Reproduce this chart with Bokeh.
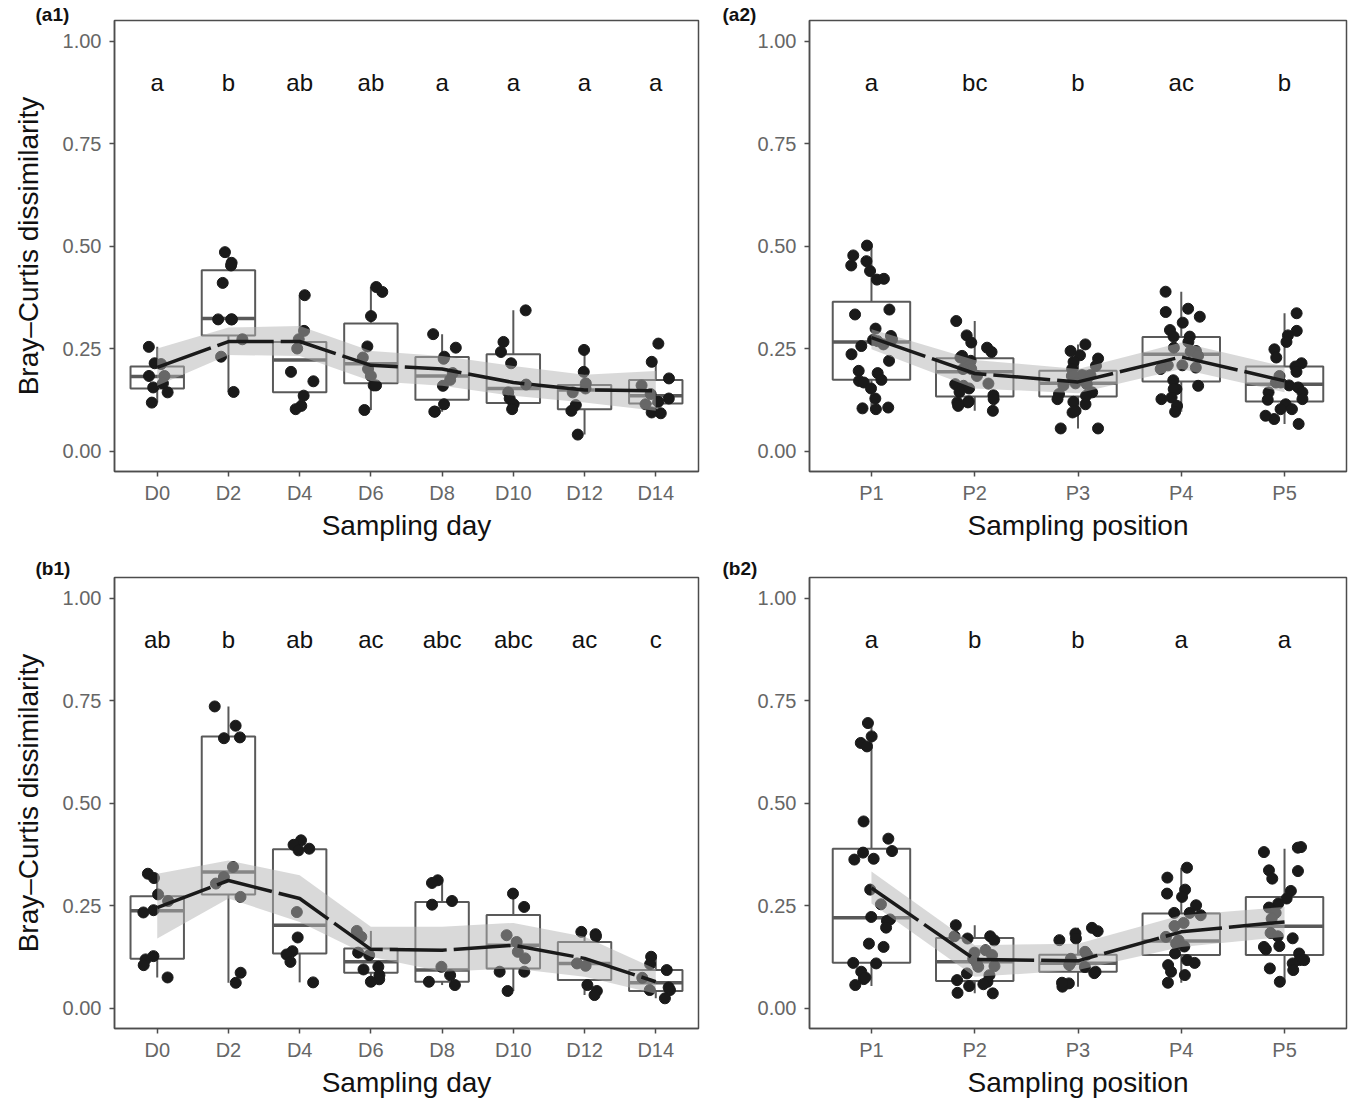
import numpy as np
from bokeh.plotting import figure
from bokeh.models import Range1d, FixedTicker, PrintfTickFormatter, ColumnDataSource
from bokeh.layouts import gridplot
from bokeh.transform import jitter, dodge
from bokeh.core.properties import value
from bokeh.embed import file_html
from bokeh.resources import INLINE

# ---------------- data ----------------
days = ["D0", "D2", "D4", "D6", "D8", "D10", "D12", "D14"]
positions = ["P1", "P2", "P3", "P4", "P5"]

# (a1) sampling day
a1_points = [
    [0.254, 0.214, 0.212, 0.183, 0.183, 0.165, 0.155, 0.143, 0.118],
    [0.485, 0.459, 0.4525, 0.41, 0.321, 0.321, 0.321, 0.2725, 0.23, 0.144],
    [0.38, 0.293, 0.2725, 0.25, 0.193, 0.17, 0.135, 0.11, 0.102],
    [0.40, 0.388, 0.329, 0.255, 0.228, 0.20, 0.183, 0.16, 0.16, 0.10],
    [0.285, 0.252, 0.23, 0.225, 0.19, 0.1735, 0.159, 0.114, 0.096, 0.096],
    [0.343, 0.266, 0.2415, 0.214, 0.162, 0.143, 0.128, 0.114, 0.102],
    [0.2465, 0.193, 0.1525, 0.165, 0.143, 0.112, 0.098, 0.04],
    [0.262, 0.2175, 0.177, 0.16, 0.139, 0.128, 0.12, 0.114, 0.094, 0.092],
]
a1_q1 = [0.1525, 0.282, 0.143, 0.165, 0.125, 0.117, 0.102, 0.116]
a1_med = [0.182, 0.323, 0.222, 0.213, 0.183, 0.1525, 0.149, 0.1345]
a1_q3 = [0.206, 0.441, 0.266, 0.311, 0.2295, 0.236, 0.161, 0.173]
a1_lo = [0.118, 0.144, 0.102, 0.10, 0.096, 0.102, 0.04, 0.092]
a1_hi = [0.254, 0.485, 0.38, 0.40, 0.285, 0.343, 0.2465, 0.2175]
a1_fit = [0.204, 0.267, 0.267, 0.209, 0.2, 0.167, 0.149, 0.147]
a1_fit_lo = [0.159, 0.234, 0.232, 0.171, 0.159, 0.1345, 0.118, 0.098]
a1_fit_hi = [0.25, 0.301, 0.305, 0.244, 0.232, 0.2075, 0.186, 0.195]
a1_letters = ["a", "b", "ab", "ab", "a", "a", "a", "a"]

# (a2) sampling position
a2_points = [
    [0.501, 0.463, 0.477, 0.4525, 0.439, 0.42, 0.418, 0.345, 0.333, 0.2985, 0.2805, 0.2725, 0.271, 0.26,
     0.268, 0.256, 0.236, 0.22, 0.1955, 0.19, 0.1735, 0.171, 0.167, 0.1525, 0.128, 0.106, 0.104, 0.102],
    [0.317, 0.282, 0.2645, 0.252, 0.232, 0.2415, 0.228, 0.22, 0.217, 0.209, 0.2, 0.2, 0.183, 0.163, 0.1645,
     0.159, 0.1525, 0.144, 0.136, 0.1265, 0.1185, 0.121, 0.1185, 0.11, 0.098],
    [0.26, 0.244, 0.2335, 0.2255, 0.2175, 0.2075, 0.2, 0.185, 0.183, 0.183, 0.185, 0.165, 0.163, 0.16, 0.143,
     0.1345, 0.139, 0.1265, 0.12, 0.114, 0.094, 0.098, 0.055, 0.055],
    [0.3885, 0.347, 0.339, 0.3275, 0.313, 0.295, 0.279, 0.279, 0.266, 0.244, 0.243, 0.252, 0.232, 0.209,
     0.209, 0.2035, 0.2, 0.1725, 0.159, 0.151, 0.151, 0.1305, 0.1265, 0.11, 0.0955],
    [0.336, 0.293, 0.282, 0.266, 0.248, 0.228, 0.214, 0.206, 0.193, 0.183, 0.167, 0.16, 0.167, 0.155, 0.143,
     0.143, 0.1265, 0.125, 0.114, 0.102, 0.102, 0.078, 0.086, 0.066],
]
a2_q1 = [0.1735, 0.133, 0.133, 0.1695, 0.121]
a2_med = [0.266, 0.193, 0.165, 0.236, 0.163]
a2_q3 = [0.364, 0.226, 0.1955, 0.278, 0.206]
a2_lo = [0.102, 0.098, 0.055, 0.0955, 0.066]
a2_hi = [0.501, 0.317, 0.26, 0.3885, 0.336]
a2_fit = [0.2765, 0.189, 0.1685, 0.2295, 0.171]
a2_fit_lo = [0.248, 0.1525, 0.141, 0.2, 0.143]
a2_fit_hi = [0.297, 0.222, 0.2, 0.2645, 0.206]
a2_letters = ["a", "bc", "b", "ac", "b"]

# (b1) sampling day
b1_points = [
    [0.3275, 0.317, 0.277, 0.261, 0.2385, 0.233, 0.1185, 0.1265, 0.1045, 0.0745],
    [0.7355, 0.6885, 0.66, 0.658, 0.344, 0.3195, 0.3035, 0.271, 0.086, 0.0615],
    [0.409, 0.3885, 0.398, 0.3845, 0.234, 0.172, 0.1385, 0.1305, 0.1125, 0.0625],
    [0.188, 0.1735, 0.135, 0.129, 0.1005, 0.094, 0.08, 0.07, 0.064],
    [0.3115, 0.305, 0.261, 0.252, 0.1005, 0.08, 0.064, 0.056],
    [0.279, 0.2465, 0.1775, 0.161, 0.137, 0.121, 0.0885, 0.0885, 0.0415],
    [0.18, 0.1857, 0.175, 0.1087, 0.103, 0.056, 0.0415, 0.0316],
    [0.125, 0.107, 0.0925, 0.0737, 0.0438, 0.0438, 0.0236, 0.05],
]
b1_q1 = [0.12, 0.277, 0.133, 0.086, 0.064, 0.0965, 0.068, 0.0414]
b1_med = [0.237, 0.332, 0.202, 0.113, 0.0925, 0.153, 0.1087, 0.0616]
b1_q3 = [0.2725, 0.6625, 0.387, 0.145, 0.2587, 0.227, 0.161, 0.0925]
b1_lo = [0.0745, 0.0615, 0.0625, 0.064, 0.056, 0.0415, 0.0316, 0.0236]
b1_hi = [0.3275, 0.7355, 0.409, 0.188, 0.3115, 0.279, 0.1857, 0.125]
b1_fit = [0.245, 0.311, 0.267, 0.143, 0.141, 0.153, 0.121, 0.064]
b1_fit_lo = [0.1695, 0.267, 0.21, 0.125, 0.0885, 0.0965, 0.076, 0.035]
b1_fit_hi = [0.3275, 0.36, 0.3235, 0.198, 0.198, 0.2076, 0.1735, 0.095]
b1_letters = ["ab", "b", "ab", "ac", "abc", "abc", "ac", "c"]

# (b2) sampling position
b2_points = [
    [0.695, 0.6625, 0.6465, 0.638, 0.455, 0.413, 0.3828, 0.379, 0.362, 0.364, 0.2887, 0.253, 0.222, 0.216,
     0.2125, 0.196, 0.157, 0.149, 0.11, 0.1087, 0.0885, 0.0705, 0.0745, 0.056],
    [0.202, 0.175, 0.175, 0.1695, 0.165, 0.141, 0.135, 0.129, 0.1005, 0.102, 0.08, 0.0843, 0.064, 0.0535,
     0.068, 0.058, 0.0357, 0.037, 0.12, 0.11],
    [0.1817, 0.1873, 0.1955, 0.1655, 0.1695, 0.137, 0.13, 0.11, 0.0885, 0.105, 0.085, 0.06, 0.052, 0.0616,
     0.12, 0.1],
    [0.3423, 0.318, 0.2887, 0.279, 0.271, 0.2506, 0.232, 0.2263, 0.232, 0.2075, 0.2, 0.1735, 0.165, 0.157,
     0.15, 0.133, 0.1168, 0.1046, 0.11, 0.0884, 0.0803, 0.0616],
    [0.3803, 0.3925, 0.391, 0.334, 0.3358, 0.3155, 0.2855, 0.267, 0.2547, 0.245, 0.232, 0.218, 0.183, 0.175,
     0.17, 0.143, 0.151, 0.149, 0.133, 0.1168, 0.1168, 0.1087, 0.0965, 0.0925, 0.064],
]
b2_q1 = [0.1103, 0.0657, 0.0885, 0.129, 0.129]
b2_med = [0.22, 0.1127, 0.109, 0.1637, 0.1995]
b2_q3 = [0.3885, 0.171, 0.13, 0.2303, 0.271]
b2_lo = [0.0535, 0.0357, 0.052, 0.0616, 0.064]
b2_hi = [0.6925, 0.202, 0.1955, 0.3423, 0.3885]
b2_fit = [0.2928, 0.1185, 0.115, 0.1857, 0.21]
b2_fit_lo = [0.2547, 0.076, 0.0925, 0.149, 0.1735]
b2_fit_hi = [0.333, 0.153, 0.157, 0.226, 0.2465]
b2_letters = ["a", "b", "b", "a", "a"]

y_ticks = [0.0, 0.25, 0.5, 0.75, 1.0]
letter_y = 0.9

# ---------------- styles ----------------
FONT = "Liberation Sans"
GREY = "#595959"
TICK_GREY = "#666666"
AXIS_COL = "#4d4d4d"
PT_COL = "#1a1a1a"
BOX_W = 0.75


def make_panel(cats, pts, q1, med, q3, lo, hi, fit, fit_lo, fit_hi, letters,
               tag, tag_dx, tag_standoff, xlabel, ylabel, frame_w, bl, br, bt, bb):
    n = len(cats)
    idx = list(range(1, n + 1))
    p = figure(frame_width=frame_w, frame_height=451,
               min_border_left=bl, min_border_right=br,
               min_border_top=bt, min_border_bottom=bb,
               x_range=Range1d(0.4, n + 0.6), y_range=Range1d(-0.05, 1.05),
               output_backend="svg", toolbar_location=None)
    p.background_fill_color = "white"
    p.border_fill_color = "white"
    p.xgrid.visible = False
    p.ygrid.visible = False
    p.outline_line_color = AXIS_COL
    p.outline_line_width = 1.5

    # panel tag as title
    p.title.text = tag
    p.title.align = "left"
    p.title.offset = tag_dx
    p.title.standoff = tag_standoff
    p.title.text_font = FONT
    p.title.text_font_size = "19px"
    p.title.text_font_style = "bold"
    p.title.text_color = "#111111"

    box = ColumnDataSource(dict(x=idx, q1=q1, med=med, q3=q3, lo=lo, hi=hi))
    # whiskers
    p.segment(x0="x", x1="x", y0="q3", y1="hi", source=box, line_color=GREY, line_width=2)
    p.segment(x0="x", x1="x", y0="lo", y1="q1", source=box, line_color=GREY, line_width=2)
    # boxes
    p.vbar(x="x", width=BOX_W, bottom="q1", top="q3", source=box,
           fill_color="white", line_color=GREY, line_width=2)
    p.segment(x0=dodge("x", -BOX_W / 2), x1=dodge("x", BOX_W / 2), y0="med", y1="med",
              source=box, line_color=GREY, line_width=3.5)

    # jittered points
    xs, ys = [], []
    for i, vals in enumerate(pts):
        xs += [idx[i]] * len(vals)
        ys += vals
    src = ColumnDataSource(dict(x=xs, y=ys))
    p.scatter(x=jitter("x", width=0.4, distribution="uniform"), y="y", source=src,
              size=11, fill_color=PT_COL, line_color=PT_COL)

    # smoother ribbon and line
    fsrc = ColumnDataSource(dict(x=idx, fit=fit, lo=fit_lo, hi=fit_hi, lab=letters,
                                 ly=[letter_y] * n))
    p.varea(x="x", y1="lo", y2="hi", source=fsrc, fill_color="#b3b3b3", fill_alpha=0.5)
    p.line(x="x", y="fit", source=fsrc, line_color=PT_COL, line_width=3.5, line_dash="57 7")

    # significance letters
    p.text(x="x", y="ly", text="lab", source=fsrc, text_align="center", text_baseline="middle",
           text_font_size="24px", text_color="#111111", text_font=value(FONT))

    # axes
    p.xaxis.ticker = FixedTicker(ticks=idx)
    p.xaxis.major_label_overrides = {i: c for i, c in zip(idx, cats)}
    p.yaxis.ticker = FixedTicker(ticks=y_ticks)
    p.yaxis.formatter = PrintfTickFormatter(format="%.2f")
    for ax in (p.xaxis[0], p.yaxis[0]):
        ax.axis_line_color = AXIS_COL
        ax.axis_line_width = 1.5
        ax.major_tick_line_color = AXIS_COL
        ax.major_tick_line_width = 1.5
        ax.major_tick_out = 5
        ax.major_tick_in = 0
        ax.minor_tick_line_color = None
        ax.major_label_text_font = FONT
        ax.major_label_text_font_size = "20px"
        ax.major_label_text_color = TICK_GREY
        ax.axis_label_text_font = FONT
        ax.axis_label_text_font_size = "28px"
        ax.axis_label_text_font_style = "normal"
        ax.axis_label_text_color = "#111111"
    p.xaxis.major_label_standoff = 5
    p.xaxis.axis_label_standoff = 3
    p.yaxis.major_label_standoff = 8
    p.yaxis.axis_label_standoff = 16
    p.xaxis.axis_label = xlabel
    if ylabel:
        p.yaxis.axis_label = ylabel
    return p


ylab = "Bray\u2013Curtis dissimilarity"
pa1 = make_panel(days, a1_points, a1_q1, a1_med, a1_q3, a1_lo, a1_hi, a1_fit, a1_fit_lo, a1_fit_hi,
                 a1_letters, "(a1)", -79, -9, "Sampling day", ylab, 584, 114, 2, 20, 86)
pa2 = make_panel(positions, a2_points, a2_q1, a2_med, a2_q3, a2_lo, a2_hi, a2_fit, a2_fit_lo, a2_fit_hi,
                 a2_letters, "(a2)", -87, -9, "Sampling position", None, 537, 109, 5, 20, 86)
pb1 = make_panel(days, b1_points, b1_q1, b1_med, b1_q3, b1_lo, b1_hi, b1_fit, b1_fit_lo, b1_fit_hi,
                 b1_letters, "(b1)", -79, -3, "Sampling day", ylab, 584, 114, 2, 20, 76)
pb2 = make_panel(positions, b2_points, b2_q1, b2_med, b2_q3, b2_lo, b2_hi, b2_fit, b2_fit_lo, b2_fit_hi,
                 b2_letters, "(b2)", -87, -3, "Sampling position", None, 537, 109, 5, 20, 76)

grid = gridplot([[pa1, pa2], [pb1, pb2]], toolbar_location=None)

open("out.html", "w").write(file_html(grid, INLINE))
